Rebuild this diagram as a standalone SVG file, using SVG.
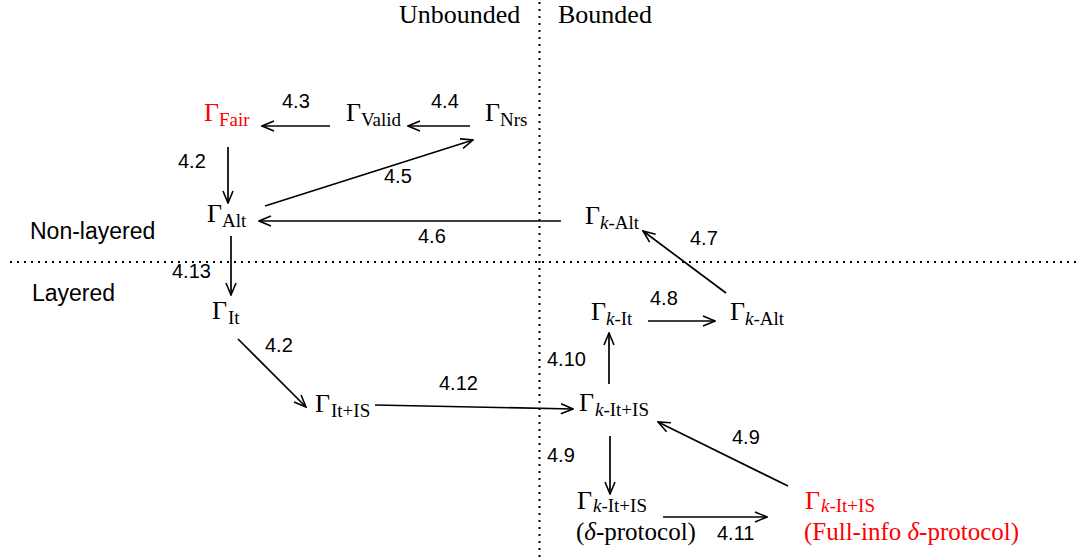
<svg xmlns="http://www.w3.org/2000/svg" width="1083" height="557" viewBox="0 0 1083 557">
<style>
text{fill:#000}
.g{font-family:"Liberation Serif","Times New Roman",serif;font-size:26px}
.s{font-family:"Liberation Serif","Times New Roman",serif;font-size:19px}
.i{font-style:italic}
.p{font-family:"Liberation Serif","Times New Roman",serif;font-size:25px}
.n{font-family:"Liberation Sans",Arial,sans-serif;font-size:20px}
.l{font-family:"Liberation Sans",Arial,sans-serif;font-size:23px}
.h{font-family:"Liberation Serif","Times New Roman",serif;font-size:26px}
.red{fill:#ff0000}
.e{stroke:#000;stroke-width:1.7;fill:none;marker-end:url(#ah)}
.dot{stroke:#000;stroke-width:2;stroke-dasharray:2 5;fill:none}
</style>
<defs>
<marker id="ah" markerUnits="userSpaceOnUse" viewBox="0 0 14 12" markerWidth="14" markerHeight="12" refX="13" refY="6" orient="auto">
<path d="M1,1 L13,6 L1,11" fill="none" stroke="#000" stroke-width="1.6"/>
</marker>
</defs>
<rect width="1083" height="557" fill="#fff"/>
<g id="grid">
<line class="dot" x1="539.5" y1="2" x2="539.5" y2="557"/>
<line class="dot" x1="10" y1="262" x2="1080" y2="262"/>
<text class="h" x="399" y="23">Unbounded</text>
<text class="h" x="558" y="23">Bounded</text>
<text class="l" x="30" y="239">Non-layered</text>
<text class="l" x="32" y="301">Layered</text>
</g>
<g id="connectors">
<line class="e" x1="330" y1="126" x2="262" y2="126"/>
<line class="e" x1="470" y1="126" x2="408" y2="126"/>
<line class="e" x1="228" y1="147" x2="228" y2="203"/>
<line class="e" x1="265" y1="206" x2="473" y2="140"/>
<line class="e" x1="561" y1="221" x2="259" y2="221"/>
<line class="e" x1="726" y1="293" x2="643" y2="231"/>
<line class="e" x1="231" y1="236" x2="231" y2="295"/>
<line class="e" x1="238" y1="339" x2="306" y2="407"/>
<line class="e" x1="375" y1="405" x2="573" y2="409"/>
<line class="e" x1="609" y1="384" x2="609" y2="333"/>
<line class="e" x1="648" y1="321" x2="715" y2="321"/>
<line class="e" x1="610" y1="436" x2="610" y2="494"/>
<line class="e" x1="788" y1="486" x2="658" y2="422"/>
<line class="e" x1="663" y1="517" x2="767" y2="517"/>
<text class="n" x="282" y="108">4.3</text>
<text class="n" x="431" y="108">4.4</text>
<text class="n" x="178" y="168">4.2</text>
<text class="n" x="384" y="183">4.5</text>
<text class="n" x="418" y="243">4.6</text>
<text class="n" x="690" y="245">4.7</text>
<text class="n" x="172" y="278">4.13</text>
<text class="n" x="650" y="305">4.8</text>
<text class="n" x="265" y="352">4.2</text>
<text class="n" x="547" y="366">4.10</text>
<text class="n" x="439" y="390">4.12</text>
<text class="n" x="547" y="462">4.9</text>
<text class="n" x="732" y="444">4.9</text>
<text class="n" x="717" y="540">4.11</text>
</g>
<g id="fair">
<text class="g red" x="204" y="121">Γ</text><text class="s red" x="219" y="126">Fair</text>
</g>
<g id="valid">
<text class="g" x="346" y="121">Γ</text><text class="s" x="361" y="126">Valid</text>
</g>
<g id="nrs">
<text class="g" x="485" y="121">Γ</text><text class="s" x="500" y="126">Nrs</text>
</g>
<g id="alt">
<text class="g" x="207" y="222">Γ</text><text class="s" x="222" y="227">Alt</text>
</g>
<g id="kalt-top">
<text class="g" x="585" y="224">Γ</text><text class="s" x="600" y="229"><tspan class="i">k</tspan>-Alt</text>
</g>
<g id="it">
<text class="g" x="212" y="319">Γ</text><text class="s" x="228" y="324">It</text>
</g>
<g id="kit">
<text class="g" x="591" y="320">Γ</text><text class="s" x="606" y="325"><tspan class="i">k</tspan>-It</text>
</g>
<g id="kalt-bottom">
<text class="g" x="730" y="320">Γ</text><text class="s" x="745" y="325"><tspan class="i">k</tspan>-Alt</text>
</g>
<g id="itis">
<text class="g" x="315" y="412">Γ</text><text class="s" x="331" y="417">It+IS</text>
</g>
<g id="kitis">
<text class="g" x="579" y="411">Γ</text><text class="s" x="595" y="416"><tspan class="i">k</tspan>-It+IS</text>
</g>
<g id="kitis-delta">
<text class="g" x="577" y="509">Γ</text><text class="s" x="593" y="512"><tspan class="i">k</tspan>-It+IS</text>
<text class="p" x="576" y="540">(<tspan class="i">δ</tspan>-protocol)</text>
</g>
<g id="kitis-full">
<text class="g red" x="805" y="509">Γ</text><text class="s red" x="821" y="512"><tspan class="i">k</tspan>-It+IS</text>
<text class="p red" x="804" y="540">(Full-info <tspan class="i">δ</tspan>-protocol)</text>
</g>
</svg>
